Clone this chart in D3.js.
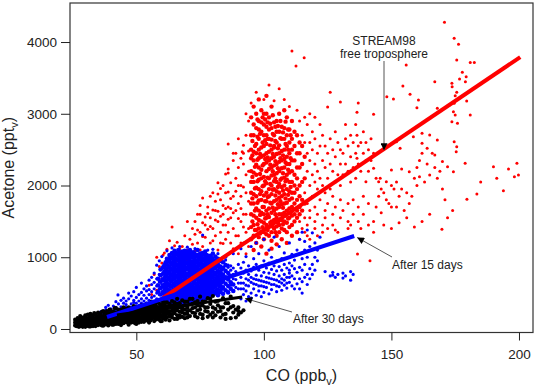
<!DOCTYPE html>
<html>
<head>
<meta charset="utf-8">
<script src="https://cdn.jsdelivr.net/npm/d3@7"></script>
<style>
  body { margin: 0; background: #fff; }
  svg { display: block; font-family: "Liberation Sans", Arial, sans-serif; }
  .tick text { fill: #222; font-size: 13.5px; }
  .tick line { stroke: #222; }
</style>
</head>
<body>
<script>
// CO (ppbv) : acetone (pptv) values, one column per CO reading
const redCore = [
  "95:1250 1420 1600 1750 1900 2050 2200 2380 2500 2700 2950",
  "95.5:1500 1820 2120 2420 2620",
  "96:1300 1450 1580 1750 1880 2050 2180 2350 2470 2700 2850 3100 1100",
  "96.5:1380 1650 1960 2260 2550",
  "97:1200 1380 1550 1680 1850 1970 2150 2290 2450 2580 2800 3000",
  "97.5:1460 1760 2060 2360 2680 2920",
  "98:1280 1400 1520 1650 1790 1950 2080 2250 2380 2500 2650 2780 2900 3200",
  "98.5:1330 1590 1880 2160 2440 2720",
  "99:1350 1500 1620 1800 1920 2100 2220 2400 2530 2750 2880 3050 1150",
  "99.5:1420 1700 1990 2280 2600 2950",
  "100:1250 1350 1480 1600 1700 1860 2000 2120 2300 2420 2550 2700 2850 3000",
  "100.5:1540 1780 2060 2370 2630 2920",
  "101:1320 1450 1550 1650 1780 1900 2030 2200 2320 2450 2580 2700 2820 3000 3250 1050",
  "101.5:1380 1600 1840 2110 2390 2650 2880",
  "102:1300 1420 1560 1680 1850 1950 2100 2230 2350 2470 2650 2780 2950",
  "102.5:1480 1760 2020 2290 2560 2860",
  "103:1230 1350 1500 1620 1750 1880 2000 2140 2250 2380 2500 2640 2800 3100 1120",
  "103.5:1430 1690 1940 2200 2440 2720 2980",
  "104:1400 1520 1650 1780 1950 2060 2150 2280 2400 2530 2700 2880 2550",
  "104.5:1350 1600 1860 2100 2340 2620 2820",
  "105:1300 1430 1550 1680 1800 1920 2050 2170 2300 2440 2600 2750 2900 1180",
  "105.5:1480 1740 1980 2240 2520 2830",
  "106:1350 1450 1600 1700 1830 1900 2020 2200 2330 2450 2560 2750 3000",
  "106.5:1520 1780 2080 2380 2660 2900",
  "107:1400 1520 1600 1740 1850 1980 2100 2240 2350 2480 2650 2820 1250",
  "107.5:1460 1690 1930 2170 2420 2740",
  "108:1380 1500 1620 1750 1880 2000 2110 2250 2370 2500 2650 2800 3050",
  "108.5:1580 1820 2060 2320 2580 2890",
  "109:1350 1480 1650 1760 1950 2080 2150 2300 2400 2550 2700 2950 1200",
  "109.5:1540 1870 2220 2500 2780",
  "110:1420 1550 1680 1800 1920 2050 2180 2300 2450 2600 2780",
  "110.5:1620 1980 2380 2700",
  "111:1450 1580 1700 1820 1900 2050 2200 2350 2500 2650 2900 1300",
  "112:1500 1600 1750 1900 2000 2150 2350 2550 2750",
  "113:1550 1650 1800 1950 2100 2250 2450 2700 1350",
  "114:1600 1700 1850 2000 2250 2450 2600",
  "115:1650 1800 2050 2300 2550",
  "116:1750 2100 2400"
];

const redScatter = [
  "55:610", "56:480", "57:760", "58:540 1000", "59:870", "60:920 700",
  "60.5:1030", "61:1060 780", "62:960 1110 850", "63:820 1010 1230",
  "64:1420 1000 900 700", "65:880 1060 1160", "66:1210 950 1040 800",
  "67:1050 760 980 1120", "68:1150 900 1010 620 420", "69:1000 1300 920 1080",
  "70:850 1100 960 1500 380", "71:960 1250 1060 690", "72:1400 1050 1180 900 450",
  "73:880 1500 1320 1090", "74:1200 1000 1600 1380", "75:1350 1600 1100 1720",
  "76:1825 1150 1480 1290", "77:1450 1280 1560 1050", "78:1000 1700 1390 1610",
  "79:1550 1200 1850 1430", "80:1400 1900 1660 1230 1050", "81:1300 1650 1520 1780",
  "82:1100 1500 1880 1640 2040", "83:1800 1350 1570 1200 1960",
  "84:1600 2000 1450 1720 1190", "85:1250 1450 1900 2160 1680",
  "86:1910 1700 1350 1530 2230 2580 2175", "87:1550 1200 1820 2040 1680",
  "88:1850 1400 2350 1620 1120 2450", "89:2100 1650 1300 1920 2450",
  "90:1300 1750 2000 1540 2250 1050 2650", "91:2000 1500 1850 2380 1200 1680",
  "91.5:2470", "92:2300 1200 1600 1980 2560 1420 2450",
  "93:1600 1900 2150 1350 2700 1050 3000", "94:2200 1400 1780 2480 1150 2900",
  "95:3150", "97:3300", "100:3200", "102:3400", "104:3180", "106:3350",
  "108:3200", "110:3100", "111:3875", "112.6:3666", "113:3050", "115.8:3780",
  "114:2900 1500 1250", "115:2700 1400", "116:2600 1900 1550 2950 1350",
  "117:2450 2200 1750 2850 1450 1300", "118:2350 2000 2600 1650 3000 1550 1250",
  "119:2150 2500 1850 2750", "120:2300 2050 2650 1700 2950 1400 1500",
  "121:2450 1950 2200 1300 1600", "122:2550 2100 1800 2850",
  "123:2350 2000 2700 1450 1350", "124:2250 2550 1900 1650 1550",
  "125:2450 2100 3095 1400 1750", "126:2650 2300 3300 1950",
  "127:2200 2500 1850 1600 1450", "128:2400 2750 2050 1700 1380",
  "129:2150 2600 1350", "130:2300 2500 3165 2000 1550 1800", "131:2450 2150 1650",
  "132:2650 2300 2850", "133:2200 2550 1500 1750 1400", "134:2400 2050 2700 1450",
  "135:2250 2600 1600 1800", "136:2450 2850 2100", "136.5:2380 2700 3020",
  "136.7:1045", "137:2300 2550 3150 1700 1500", "138:2600 2200 1400",
  "139:2450 2750 1600 1850", "140:2350 2054 2600", "141:2500 2200 1750 1450",
  "141.6:950", "142:2650 2350", "143:2992 2240 2450 1500 1350",
  "144:1700 2101", "145:1850 2054", "145.6:2101", "146:1620 1950",
  "147:1900 1450", "148:1800 2054", "148.2:3238",
  "149:1750", "150:1700 2000 2217 1400", "150.8:3206",
  "151:1950", "152:1700 2050 2611", "153:1850 1480",
  "153.4:2519", "154:1950 2230", "154.5:3387", "155:1650",
  "155.8:3680", "156:1900 1550", "157:1750 2193", "157.3:3272",
  "158:1850", "158.6:2681", "159:2100 1420",
  "160:2250 2000 3085", "160.6:3192", "161:2123 2350",
  "162:2450 2728 2589 1500", "163:2050", "164:2300 2519",
  "165:2147 2704 1600", "166:2450", "167:2250 2426 3447",
  "168:2100 2635 3076", "169:2200", "169.8:1390", "170:2333 1950",
  "170.8:4275", "171:1800", "172:1550 2263", "172.7:3122", "173.7:3425 2890",
  "173.8:3378", "174:1650", "174.3:2193 3029", "174.6:4052 3146 2611",
  "175:3252 2983", "175.4:2472", "175.6:3750 3300 2541", "175.9:2868",
  "176.3:3969", "176.7:3485", "177:3224", "177.8:3578", "178.9:2310",
  "179:3447", "179.3:3517", "179.5:3178", "179.6:1808", "180.9:3713 2983",
  "182.5:3713", "183.5:1882", "185:2050", "190:2263", "191.3:2101",
  "193.9:1928", "195.9:2230", "198.2:2123", "199.2:2310", "199.8:2147"
];

const blueCore = [
  "58.5:520 610 700", "59.5:480 570 660 750 830",
  "60.5:410 500 590 680 770 860", "61:450 540 620 710 800 890 370",
  "61.5:490 580 670 760 840 930", "62:400 470 560 640 730 810 900 980",
  "62.5:440 520 610 690 780 860 950", "63:370 460 540 620 700 790 870 960 1030",
  "63.5:420 500 590 670 750 840 920 1000", "64:350 440 510 600 680 760 830 910 990 1060",
  "64.5:390 470 550 630 720 800 880 960 1040", "65:360 450 530 610 700 770 850 930 1010 1090",
  "65.5:410 490 570 650 740 820 900 980 1060", "66:340 420 500 580 660 730 810 890 970 1040",
  "66.5:380 460 540 620 700 780 860 950 1030 1100", "67:350 430 510 600 680 750 830 910 990 1070",
  "67.5:400 480 560 640 720 800 880 960 1040", "68:360 440 520 590 670 760 840 920 1000 1080",
  "68.5:410 490 570 650 730 810 890 970 1050", "69:370 450 540 620 700 780 860 940 1020 1090",
  "69.5:420 500 580 660 740 830 910 990 1060", "70:380 460 540 610 690 770 850 930 1010 1080",
  "70.5:420 510 590 670 750 830 900 980 1050", "71:390 470 550 630 710 800 880 950 1030 1100",
  "71.5:430 510 600 680 760 840 920 1000 1070", "72:380 460 540 620 700 790 870 940 1020",
  "72.5:420 500 580 660 750 830 910 990 1070", "73:400 480 560 640 720 800 880 960 1040",
  "73.5:440 520 600 690 770 850 930 1010", "74:390 470 550 630 710 790 870 950 1030 1100",
  "74.5:430 510 590 670 750 830 910 990", "75:410 490 570 650 730 810 890 970 1050",
  "75.5:450 530 610 690 770 850 940 1020", "76:420 500 580 660 740 820 900 980 1060",
  "76.5:460 540 620 700 790 870 960 1040", "77:430 510 590 670 750 830 910 1000 1080",
  "77.5:470 550 640 720 800 880 960 1030", "78:450 530 610 690 770 850 940 1020",
  "78.5:490 570 650 730 810 900 980", "79:460 540 620 700 780 860 940 1020",
  "79.5:500 580 660 740 830 910 990", "80:480 560 640 720 800 890 970 1050",
  "80.5:520 600 680 760 850 930", "81:500 590 670 760 850 930 1010",
  "81.5:540 620 710 790 880 960", "82:470 550 640 730 810 900 980",
  "82.5:510 600 690 770 860", "83:520 600 690 790 870 950",
  "83.5:560 650 740 830", "84:490 580 670 760 850 930",
  "85:540 630 720 810 890", "86:510 600 690 780", "87:560 650 740", "88:530 620"
];

const blueScatter = [
  "36:180 240", "37:220", "38:260 180 300", "39:210 330", "40:280 240 200",
  "41:320 250", "42:300 230 380 270", "42.8:475", "43:350 260", "44:310 400 280",
  "45:360 250 430", "46:300 390 340", "47:420 280 500", "48:350 460 300",
  "49:400 320 520 370", "50:440 360 580 300", "51:390 480 330", "52:640 420 360 510",
  "53:470 390 560 310", "54:430 530 360 600", "55:480 400 680 550",
  "56:520 440 620 370 720", "57:780 560 460 650", "58:890 500 600 420 700",
  "59:560 660 760 480 950", "60:620 520 700 840 430 380 1010", "62:1090", "64:1130",
  "67:1150", "70:1140", "73:1120", "76:1310", "78:1100", "80:1110",
  "82:1050", "84:1000", "85:1000 960", "86:890 860", "87:880 610 820",
  "88:850 1050 700 760", "89:800 580 690", "90:770 900 640 560",
  "91:420 560 720 850 1120 640", "92:480 640 780 930 560", "93:390 530 700 820 1010 610",
  "94:450 600 760 880 680", "95:500 650 810 1150 430 720", "96:560 700 860 980 630",
  "97:470 620 750 900 1200 690", "98:530 680 820 1050 600", "99:450 600 740 880 670",
  "100:510 660 790 950 1250 590", "101:580 720 850 650", "102:490 640 780 920 1100 710",
  "103:550 700 830 1000 620", "104:620 760 880 1280 690", "105:520 680 810 950 600",
  "106:590 740 870 1150 660", "107:540 700 820 980 640", "108:610 760 900 1060 680",
  "109:570 720 850 640", "110:650 780 920 820 1200 720", "111:600 740 880 1040",
  "112:560 700 840 960", "113:630 790 1100", "114:700 860 1250 560",
  "115:660 820 980 1350 500", "116:720 900 1100 1220", "117:760 1380 1000 620",
  "118:840 1150 700", "119:1340 900 760", "120:1200 1000 820", "121:950 1100",
  "122:1280", "124:800", "126:740", "127:750 790", "128:720", "129:760",
  "131:780 710", "132:740", "134:680 800", "135:760"
];

const blackPts = [
  "26:50 90 130", "26.5:70 40 110", "27:60 90 40 150 120", "27.5:30 80 100",
  "28:40 110 70 180 140", "28.5:55 95 125", "29:50 130 85 160 30", "29.5:70 110 145",
  "30:30 100 160 65 190 130", "30.5:45 85 120 150", "31:45 120 80 140 200 60",
  "31.5:95 160 35 125", "32:55 95 170 35 130 210", "32.5:75 115 150 60",
  "33:75 130 60 110 190 160 40", "33.5:90 140 55 220", "34:40 150 90 70 120 200",
  "34.5:60 105 170 135", "35:120 55 180 85 150 230", "35.5:70 110 200 140",
  "36:100 60 200 160 130 80", "36.5:90 140 240 50", "37:140 80 45 250 180 110",
  "37.5:65 120 210 160", "38:110 170 65 140 220 90", "38.5:130 75 190 250",
  "39:90 220 130 50 170 110", "39.5:150 95 200 270", "40:180 75 140 260 110 210",
  "40.5:130 60 170 230", "41:95 200 60 150 240 125", "41.5:110 180 290 75",
  "42:150 110 290 190 70 230", "42.5:130 210 90 170", "43:70 180 130 230 100 270",
  "43.5:150 200 90 250", "44:90 160 55 270 120 210", "44.5:180 110 240 140",
  "45:120 200 80 160 250 300", "45.5:140 220 100 180", "46:240 150 100 190 280 130",
  "46.5:170 90 210 260", "47:60 190 130 300 230 160", "47.5:110 250 180 210",
  "48:170 90 220 140 280 120", "48.5:200 150 250 100", "49:140 260 110 190 230 320",
  "49.5:170 80 210 280", "50:70 200 160 310 240 120", "50.5:190 140 260 100",
  "51:130 240 180 300 90 210", "51.5:160 270 220 120", "52:100 280 210 160 330 240",
  "52.5:190 140 250 300", "53:150 330 190 260 100 220", "53.5:180 290 130 240",
  "54:120 260 350 200 170 300", "54.5:220 150 280 320", "55:170 90 300 220 250 140",
  "55.5:200 270 330 120", "56:140 250 380 200 310 180", "56.5:230 160 290 340",
  "57:200 110 320 260 160 290", "57.5:240 180 350 130", "58:160 270 230 310 200 370",
  "58.5:210 140 290 250", "59:130 350 200 260 300 170", "59.5:240 190 320 110",
  "60:290 170 400 110 240 330", "60.5:210 270 150 360", "61:240 330 150 280 200 370",
  "61.5:180 260 310 130", "62:210 370 280 160 320 240", "63:180 120 310 250 350 210",
  "64:250 390 160 290 200 330", "65:220 330 280 140 370 250", "66:140 260 420 300 190 350",
  "67:190 300 360 240 160", "68:230 170 400 300 270", "69:270 330 150 210 380",
  "70:300 210 380 250 160", "71:260 180 340 420", "72:350 420 230 290",
  "73:220 300 180 370", "74:160 390 260 330", "75:270 450 210 320",
  "76:200 330 380 150", "77:380 250 300", "78:300 170 430 240", "79:420 350 200",
  "80:230 460 300 160", "81:280 190 380", "82:390 330 240", "83:250 160 300",
  "84:430 300 200", "85:210 360 140", "86:360 270", "87:450 150 300",
  "88:230 320", "89:270 160", "90:250 200 300", "91:230", "92:260"
];

// fit lines [CO, acetone]
const redLine = [[60.5, 432], [200.5, 3790]];
const blueLine = [[38.5, 167], [135.4, 1296]];
const blackLine = [[42.4, 195], [91.5, 446]];

const xTicks = [50, 100, 150, 200];
const yTicks = [0, 1000, 2000, 3000, 4000];

const parseCols = rows => rows.flatMap(r => {
  const [x, ys] = r.split(":");
  return ys.trim().split(/\s+/).map(y => [+x, +y]);
});

const W = 540, H = 388;
const pLeft = 70, pRight = 533, pTop = 3, pBottom = 332.5;

const x = d3.scaleLinear().domain([24, 205.5]).range([pLeft, pRight]);
const y = d3.scaleLinear().domain([-49, 4544]).range([pBottom, pTop]);

const svg = d3.select("body").append("svg").attr("width", W).attr("height", H);

const plot = svg.append("g");

const dots = (pts, color, r) => {
  plot.append("g")
    .selectAll("circle")
    .data(pts)
    .enter()
    .append("circle")
    .attr("cx", d => x(d[0]))
    .attr("cy", d => y(d[1]))
    .attr("r", r)
    .attr("fill", color);
};

dots(parseCols(redScatter), "#ff0000", 1.5);
dots(parseCols(redCore), "#ff0000", 2.2);
dots(parseCols(blueScatter), "#0000ff", 1.6);
dots(parseCols(blueCore), "#0000ff", 2.3);
dots(parseCols(blackPts), "#000000", 2.1);

const line = d3.line().x(d => x(d[0])).y(d => y(d[1]));
[[redLine, "#ff0000", 4], [blueLine, "#0000ff", 4], [blackLine, "#000000", 3]].forEach(([d, c, w]) => {
  plot.append("path").attr("d", line(d)).attr("stroke", c).attr("stroke-width", w).attr("fill", "none");
});

// frame
svg.append("rect")
  .attr("x", pLeft).attr("y", pTop)
  .attr("width", pRight - pLeft).attr("height", pBottom - pTop)
  .attr("fill", "none").attr("stroke", "#333").attr("stroke-width", 1.2);

const yAxis = svg.append("g")
  .attr("transform", `translate(${pLeft},0)`)
  .call(d3.axisLeft(y).tickValues(yTicks).tickFormat(d3.format("d")).tickSize(9).tickPadding(4).tickSizeOuter(0));
const xAxis = svg.append("g")
  .attr("transform", `translate(0,${pBottom})`)
  .call(d3.axisBottom(x).tickValues(xTicks).tickFormat(d3.format("d")).tickSize(8).tickPadding(9).tickSizeOuter(0));
yAxis.select(".domain").remove();
xAxis.select(".domain").remove();
svg.selectAll(".tick text").attr("font-family", null).attr("font-size", null);

// axis titles
const xt = svg.append("text")
  .attr("x", (pLeft + pRight) / 2).attr("y", 381)
  .attr("text-anchor", "middle").attr("font-size", 16).attr("fill", "#222")
  .text("CO (ppb");
xt.append("tspan").attr("font-size", 11).attr("dy", 4).text("v");
xt.append("tspan").attr("dy", -4).text(")");

const yt = svg.append("text")
  .attr("transform", `translate(14,${(pTop + pBottom) / 2}) rotate(-90)`)
  .attr("text-anchor", "middle").attr("font-size", 16).attr("fill", "#222")
  .text("Acetone (ppt");
yt.append("tspan").attr("font-size", 11).attr("dy", 4).text("v");
yt.append("tspan").attr("dy", -4).text(")");

// annotations
const defs = svg.append("defs");
defs.append("marker")
  .attr("id", "ah").attr("viewBox", "0 0 10 10")
  .attr("refX", 10).attr("refY", 5)
  .attr("markerWidth", 9).attr("markerHeight", 7)
  .attr("markerUnits", "userSpaceOnUse")
  .attr("orient", "auto")
  .append("path").attr("d", "M0,0 L10,5 L0,10 z").attr("fill", "#000");

const note = (lines, tx, ty, from, to) => {
  const t = svg.append("text").attr("font-size", 12).attr("fill", "#222")
    .attr("text-anchor", lines.length > 1 ? "middle" : "start");
  lines.forEach((s, i) => t.append("tspan").attr("x", tx).attr("y", ty + i * 13).text(s));
  svg.append("line")
    .attr("x1", from[0]).attr("y1", from[1]).attr("x2", to[0]).attr("y2", to[1])
    .attr("stroke", "#555").attr("stroke-width", 1)
    .attr("marker-end", "url(#ah)");
};

note(["STREAM98", "free troposphere"], 384, 45, [384, 61], [384, y(2500) + 0.5]);
note(["After 15 days"], 392, 269, [392, 257], [x(135.4) + 3, y(1296) + 1.5]);
note(["After 30 days"], 293, 323, [292, 312], [x(91.5) + 3, y(446) + 1.5]);
</script>
</body>
</html>
